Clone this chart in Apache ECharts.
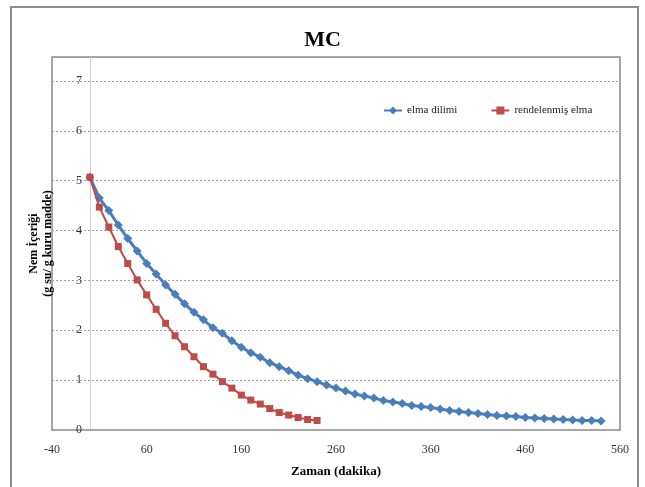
<!DOCTYPE html>
<html>
<head>
<meta charset="utf-8">
<script src="https://cdn.jsdelivr.net/npm/echarts@6/dist/echarts.min.js"></script>
<style>
html,body{margin:0;padding:0;background:#fff;}
#c{width:645px;height:487px;}
</style>
</head>
<body>
<div id="c"></div>
<script>
const titleText = 'MC';
const xName = 'Zaman (dakika)';
const yName = 'Nem İçeriği\n(g su/ g kuru madde)';
const xTicks = [-40, 60, 160, 260, 360, 460, 560];
const blueName = 'elma dilimi';
const redName = 'rendelenmiş elma';
const blueTimes = [0,10,20,30,40,50,60,70,80,90,100,110,120,130,140,150,160,170,180,190,200,210,220,230,240,
  250,260,270,280,290,300,310,320,330,340,350,360,370,380,390,400,410,420,430,440,450,460,470,480,490,500,510,520,530,540];
const blueValues = [5.07,4.65,4.40,4.11,3.84,3.59,3.34,3.13,2.91,2.72,2.53,2.36,2.21,2.05,1.94,1.79,1.66,1.55,1.46,1.35,1.27,1.19,1.10,1.03,0.97,
  0.90,0.84,0.78,0.72,0.68,0.64,0.59,0.56,0.53,0.49,0.47,0.45,0.42,0.39,0.37,0.35,0.33,0.31,0.29,0.28,0.27,0.25,0.24,0.23,0.22,0.21,0.20,0.19,0.19,0.18];
const redTimes = [0,10,20,30,40,50,60,70,80,90,100,110,120,130,140,150,160,170,180,190,200,210,220,230,240];
const redValues = [5.07,4.47,4.07,3.68,3.34,3.01,2.71,2.42,2.14,1.89,1.67,1.47,1.27,1.12,0.97,0.84,0.70,0.60,0.52,0.43,0.35,0.30,0.25,0.21,0.19];

const serif = "'Liberation Serif','Times New Roman',serif";
const chart = echarts.init(document.getElementById('c'));
chart.setOption({
  animation: false,
  backgroundColor: '#fff',
  title: {
    text: titleText, left: 'center', top: 24,
    textStyle: {fontFamily: serif, fontSize: 22, fontWeight: 'bold', color: '#000'}
  },
  legend: {
    left: 378, top: 100, itemGap: 33, itemWidth: 18, itemHeight: 10,
    textStyle: {fontFamily: serif, fontSize: 11, color: '#222'},
    data: [blueName, redName]
  },
  graphic: [{
    type: 'rect', shape: {x: 11, y: 7, width: 627, height: 500},
    style: {fill: 'none', stroke: '#8c8c8c', lineWidth: 2}, z: -1, silent: true
  }],
  grid: {left: 52, right: 25, top: 57, bottom: 57, containLabel: false, outerBoundsMode: 'none',
    show: true, borderColor: '#a6a6a6', borderWidth: 2, backgroundColor: 'transparent'},
  xAxis: {
    type: 'value', min: -40, max: 560,
    name: xName, nameLocation: 'middle', nameGap: 35,
    nameTextStyle: {fontFamily: serif, fontSize: 13, fontWeight: 'bold', color: '#000'},
    axisLine: {show: true, lineStyle: {color: '#a6a6a6', width: 2}},
    axisTick: {show: false},
    splitLine: {show: false},
    axisLabel: {customValues: xTicks, fontFamily: serif, fontSize: 12, color: '#333', margin: 14}
  },
  yAxis: {
    type: 'value', min: 0, max: 7.48, interval: 1,
    name: yName, nameLocation: 'middle', nameGap: -3, nameRotate: 90,
    nameTextStyle: {fontFamily: serif, fontSize: 12, fontWeight: 'bold', color: '#000', lineHeight: 14, align: 'center'},
    axisLine: {show: true, onZero: true, lineStyle: {color: '#cfcfcf', width: 1}},
    axisTick: {show: false},
    splitLine: {show: true, lineStyle: {color: '#a0a0a0', type: [2, 2], width: 1}},
    axisLabel: {showMaxLabel: false, fontFamily: serif, fontSize: 12, color: '#333', margin: -30}
  },
  series: [
    {
      name: blueName, type: 'line',
      data: blueTimes.map((t, i) => [t, blueValues[i]]),
      symbol: 'diamond', symbolSize: 9,
      lineStyle: {color: '#4a7ebb', width: 3},
      itemStyle: {color: '#4a7ebb'}, z: 2
    },
    {
      name: redName, type: 'line',
      data: redTimes.map((t, i) => [t, redValues[i]]),
      symbol: 'rect', symbolSize: 7,
      lineStyle: {color: '#be4b48', width: 2},
      itemStyle: {color: '#be4b48'}, z: 3
    }
  ]
});
</script>
</body>
</html>
